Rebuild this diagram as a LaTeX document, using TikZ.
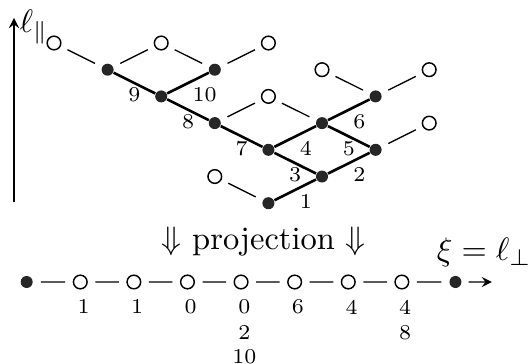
\documentclass[tikz,border=0pt]{standalone}
\usetikzlibrary{positioning}

\begin{document}
\begin{tikzpicture}[xscale=0.5797,yscale=0.2888,
  fdot/.style={circle,fill=black!85,inner sep=0pt,minimum size=3.7pt},
  odot/.style={circle,draw,line width=0.45pt,inner sep=0pt,minimum size=4.2pt},
  bond/.style={line width=0.8pt},
  link/.style={line width=0.4pt,shorten <=2.3pt,shorten >=2.3pt},
  lbl/.style={inner sep=1pt,font=\fontsize{6.5}{8}\selectfont},
  num/.style={inner sep=0pt,font=\fontsize{6.5}{8}\selectfont}]
\useasboundingbox (-1.0075,1.6105) rectangle (8.8433,-11.985);
% lattice
\foreach \i/\j in {1/1,2/2,3/1,3/3,4/4,5/3,6/2,6/4,5/5,4/6}
  \node[fdot] (f\i\j) at (\i,-\j) {};
\foreach \i/\j in {0/0,2/0,4/0,5/1,7/1,4/2,7/3,3/5}
  \node[odot] (o\i\j) at (\i,-\j) {};
\foreach \a/\b/\t/\p in {11/22/9/below,22/31/10/below right,22/33/8/below,
    33/44/7/below,44/53/4/below right,53/64/5/below,53/62/6/below right,
    44/55/3/below,55/64/2/below right,46/55/1/below right}
  \draw[bond] (f\a) -- node[lbl,\p] {\t} (f\b);
\foreach \a/\b in {00/11,20/11,20/31,40/31,42/33,42/53,51/62,71/62,73/64,35/46}
  \draw[link] (o\a) -- (f\b);
% axis
\coordinate (ybot) at (-0.746,-5.96);
\coordinate (ytop) at (-0.746,0.94);
\draw[->,>=stealth] (ybot) -- (ytop);
\node[anchor=west,inner sep=0pt] (lpar) at (-0.653,0.6) {$\ell_\parallel$};
\node (proj) at (3.91,-7.45) {$\Downarrow$ projection $\Downarrow$};
\node[anchor=west,inner sep=0pt] (xi) at (7.13,-7.83) {$\xi=\ell_\perp$};
% projected chain
\node[fdot] (b0) at (-0.51,-8.95) {};
\foreach \k in {1,...,7}
  \node[odot] (b\k) at (\k-0.51,-8.95) {};
\node[fdot] (b8) at (7.49,-8.95) {};
\foreach \k [count=\n from 1] in {0,...,7}
  \draw[link] (b\k) -- (b\n);
\coordinate (xend) at (8.17,-8.95);
\draw[->,>=stealth,shorten <=2pt] (b8) -- (xend);
\foreach \k/\t in {1/1,2/1,3/0,4/0,5/6,6/4,7/4}
  \node[num,below=3.0pt of b\k,xshift=1pt] (n\k) {\t};
\node[num,below=3.1pt of n4] (m4) {2};
\node[num,below=3.1pt of n7] (m7) {8};
\node[num,below=2.6pt of m4] (r4) {10};
\end{tikzpicture}
\end{document}
